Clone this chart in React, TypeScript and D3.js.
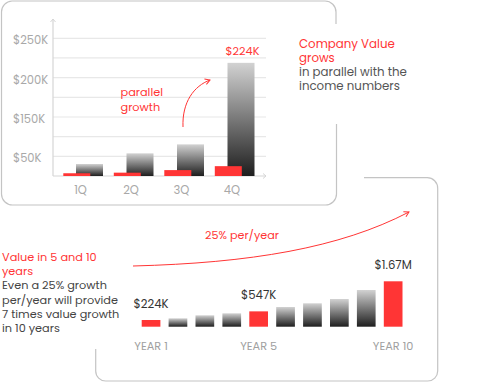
import React from "react";
import * as d3 from "d3";

const quarters = ["1Q", "2Q", "3Q", "4Q"];
const companyValue = [30.5, 57.6, 80.4, 287.6];
const incomeValue = [7, 8.5, 15, 25];
const gridValues = [0, 50, 100, 150, 200, 250, 300, 350];
const yTickValues = [50, 150, 250, 350];
const yTickLabels = ["$50K", "$150K", "$200K", "$250K"];

const years = ["YEAR 1", "YEAR 2", "YEAR 3", "YEAR 4", "YEAR 5", "YEAR 6", "YEAR 7", "YEAR 8", "YEAR 9", "YEAR 10"];
const yearValues = [224, 287, 400, 474, 547, 710, 848, 1009, 1345, 1670];
const highlightIdx = [0, 4, 9];
const valueLabels = ["$224K", "$547K", "$1.67M"];

const RED = "#ff3535";
const FONT = "Poppins, 'Open Sans', sans-serif";

export default function App() {
  const xTop = d3.scaleBand<string>().domain(quarters).range([55, 257]);
  const yTop = d3.scaleLinear().domain([0, 350]).range([176, 38.3]);

  const xBot = d3.scaleBand<string>().domain(years).range([141.7, 402.5]).paddingInner(0.305).paddingOuter(0);
  const yBot = d3.scaleLinear().domain([0, 1670]).range([326, 281.3]);
  const botBase = 326.7;

  const arrowUp = d3.path();
  arrowUp.moveTo(183, 127);
  arrowUp.bezierCurveTo(182, 102, 194, 86, 210, 80);

  const longArrow = d3.path();
  longArrow.moveTo(133, 266);
  longArrow.bezierCurveTo(250, 263, 340, 248, 409, 212);

  const topText = [
    { t: "Company Value", c: RED, y: 47.5 },
    { t: "grows", c: RED, y: 61.8 },
    { t: "in parallel with the", c: "#555", y: 76.1 },
    { t: "income numbers", c: "#555", y: 90.4 },
  ];
  const leftText = [
    { t: "Value in 5 and 10", c: RED, y: 260.6 },
    { t: "years", c: RED, y: 274.9 },
    { t: "Even a 25% growth", c: "#444", y: 289.2 },
    { t: "per/year will provide", c: "#444", y: 303.5 },
    { t: "7 times value growth", c: "#444", y: 317.8 },
    { t: "in 10 years", c: "#444", y: 332.1 },
  ];

  return (
    <svg width={489} height={383} style={{ position: "absolute", left: 0, top: 0 }} fontFamily={FONT}>
      <defs>
        <linearGradient id="grayGrad" x1="0" y1="0" x2="0" y2="1">
          <stop offset="0" stopColor="#d2d2d2" />
          <stop offset="1" stopColor="#1e1e1e" />
        </linearGradient>
        <marker id="arrRed" viewBox="0 0 10 10" refX="8" refY="5" markerWidth="7" markerHeight="7" orient="auto">
          <path d="M1,1 L8,5 L1,9" fill="none" stroke={RED} strokeWidth={1.4} />
        </marker>
      </defs>
      <rect width={489} height={383} fill="#fff" />

      {/* top card border */}
      <path
        d="M336,24 L336,12 A11,11 0 0 0 325,1 L12,1 A11,11 0 0 0 1.5,12 L1.5,194 A11,11 0 0 0 12.5,205 L325.5,205 A11,11 0 0 0 336.5,194 L336.5,124"
        fill="none" stroke="#c4c4c4" strokeWidth={1.2} />
      {/* bottom card border */}
      <path
        d="M364,177.7 L427,177.7 A10.5,10.5 0 0 1 437.7,188.4 L437.7,371 A10,10 0 0 1 427.7,381 L105.7,381 A10,10 0 0 1 95.7,371 L95.7,349"
        fill="none" stroke="#c4c4c4" strokeWidth={1.2} />

      {/* top chart grid */}
      {gridValues.slice(1).map((g) => (
        <line key={g} x1={53} x2={266} y1={yTop(g)} y2={yTop(g)} stroke="#e8e8e8" strokeWidth={1.2} />
      ))}
      {yTickValues.map((v, i) => (
        <text key={v} x={13} y={yTop(v) + 6} fontSize={11.5} fill="#a8a8a8">{yTickLabels[i]}</text>
      ))}
      {/* axes */}
      <line x1={53} x2={53} y1={yTop(0)} y2={19} stroke="#d6d6d6" strokeWidth={1.2} />
      <path d="M50.5,22 L53,19 L55.5,22" fill="none" stroke="#d6d6d6" strokeWidth={1} />
      <line x1={53} x2={266} y1={yTop(0)} y2={yTop(0)} stroke="#d6d6d6" strokeWidth={1.2} />
      <path d="M263,173.5 L266,176 L263,178.5" fill="none" stroke="#d6d6d6" strokeWidth={1} />

      {quarters.map((q, i) => (
        <g key={q}>
          <rect x={(xTop(q) as number) + 21} y={yTop(companyValue[i])} width={27} height={yTop(0) - yTop(companyValue[i])} fill="url(#grayGrad)" />
          <rect x={(xTop(q) as number) + 8.3} y={yTop(incomeValue[i])} width={27} height={yTop(0) - yTop(incomeValue[i])} fill={RED} />
          <text x={(xTop(q) as number) + 25.5} y={194} fontSize={11.5} fill="#a8a8a8" textAnchor="middle">{q}</text>
        </g>
      ))}
      <text x={242.5} y={55} fontSize={11.3} fill={RED} textAnchor="middle">$224K</text>

      <text x={120.5} y={96} fontSize={11.3} fill={RED}>parallel</text>
      <text x={120.5} y={110.5} fontSize={11.3} fill={RED}>growth</text>
      <path d={arrowUp.toString()} fill="none" stroke={RED} strokeWidth={1} markerEnd="url(#arrRed)" />

      {topText.map((d) => (
        <text key={d.t} x={299} y={d.y} fontSize={11.8} fill={d.c}>{d.t}</text>
      ))}

      {/* bottom section */}
      <text x={205} y={239} fontSize={11.2} fill={RED}>25% per/year</text>
      <path d={longArrow.toString()} fill="none" stroke={RED} strokeWidth={1} markerEnd="url(#arrRed)" />

      {leftText.map((d) => (
        <text key={d.t} x={2} y={d.y} fontSize={11.3} fill={d.c}>{d.t}</text>
      ))}

      {years.map((yr, i) => {
        const hi = highlightIdx.includes(i);
        const x = xBot(yr) as number;
        return (
          <rect key={yr} x={x} y={yBot(yearValues[i])} width={xBot.bandwidth()} height={botBase - yBot(yearValues[i])}
            fill={hi ? RED : "url(#grayGrad)"} />
        );
      })}
      {highlightIdx.map((idx, k) => {
        const yr = years[idx];
        const cx = (xBot(yr) as number) + xBot.bandwidth() / 2;
        return (
          <g key={yr}>
            <text x={cx} y={yBot(yearValues[idx]) - 12} fontSize={11.7} fill="#333" textAnchor="middle">{valueLabels[k]}</text>
            <text x={cx} y={350} fontSize={11.3} fill="#a0a0a0" textAnchor="middle">{yr}</text>
          </g>
        );
      })}
    </svg>
  );
}
